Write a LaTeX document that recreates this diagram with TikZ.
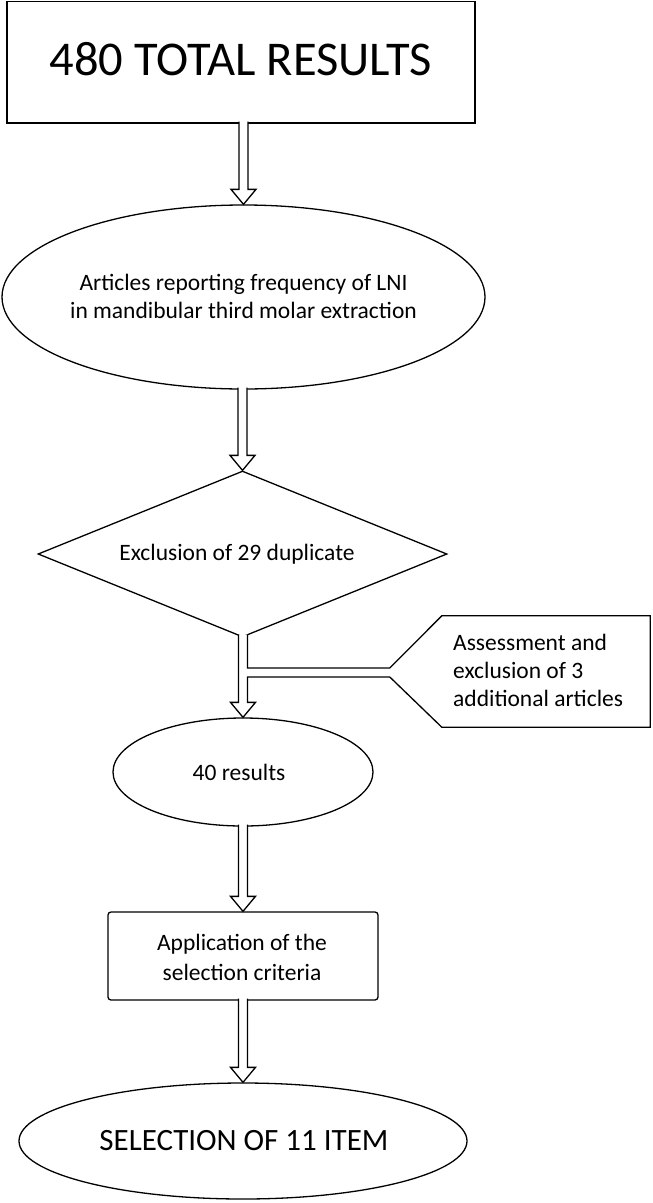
\documentclass[tikz,border=0pt]{standalone}
\usepackage{fontspec}
\setmainfont{Carlito}
\usetikzlibrary{shapes.geometric,calc}
\tikzset{
  line/.style={draw=black,line width=1.3pt},
  oval/.style={ellipse,line,fill=white,inner sep=0pt},
  txt/.style={align=center,font=\fontsize{23.5}{28}\selectfont,inner sep=0pt},
  hollow/.style={draw=black,line width=1.3pt,fill=white,line join=miter},
}
\newcommand\hollowarrow[2]{%
  \draw[hollow] let \p1=(#1), \p2=(#2) in
    (\x2-4.5pt,\y1+2pt) -- (\x2-4.5pt,\y2+15pt) -- (\x2-12.5pt,\y2+15pt) -- (\x2,\y2)
    -- (\x2+12.5pt,\y2+15pt) -- (\x2+4.5pt,\y2+15pt) -- (\x2+4.5pt,\y1+2pt);}
\begin{document}
\begin{tikzpicture}[x=1pt,y=-1pt]
\useasboundingbox (0,0) rectangle (653,1203);
\fill[white] (0,0) rectangle (653,1203);

% shapes
\node[line,rectangle,minimum width=468pt,minimum height=121.5pt,inner sep=0pt] (total) at (241,62.25) {};
\node[oval,minimum width=483pt,minimum height=184pt] (art) at (243.5,297) {};
\node[diamond,line,fill=white,inner sep=0pt,minimum width=409pt,minimum height=166pt] (dup) at (242.5,554) {};
\node[oval,minimum width=260pt,minimum height=108pt] (forty) at (243,772) {};
\node[line,rectangle,rounded corners=3pt,minimum width=270pt,minimum height=88pt,inner sep=0pt] (crit) at (243,956) {};
\node[oval,minimum width=448pt,minimum height=116pt] (sel) at (243,1141) {};
\node[rectangle,minimum width=208pt,minimum height=111pt,inner sep=0pt] (cbox) at (546,671.5) {};

% arrows
\hollowarrow{total.south}{art.north}
\hollowarrow{art.south}{dup.north}
\draw[hollow] let \p1=(dup.south), \p2=(forty.north), \p3=(cbox.north west), \p4=(cbox.south east), \p5=(cbox.center) in
  (\x2-4.5pt,\y1+3pt) -- (\x2-4.5pt,\y2+15pt) -- (\x2-12.5pt,\y2+15pt) -- (\x2,\y2)
  -- (\x2+12.5pt,\y2+15pt) -- (\x2+4.5pt,\y2+15pt) -- (\x2+4.5pt,\y5-5.5pt)
  -- (\x3-52pt,\y5-5.5pt) -- (\x3,\y4) -- (\x4,\y4) -- (\x4,\y3) -- (\x3,\y3)
  -- (\x3-52pt,\y5+3.5pt) -- (\x2+4.5pt,\y5+3.5pt) -- (\x2+4.5pt,\y1+3pt);
\hollowarrow{forty.south}{crit.north}
\hollowarrow{crit.south}{sel.north}

% texts
\node[txt,font=\fontsize{48.5}{56}\selectfont] (totaltxt) at (241,59) {480 TOTAL RESULTS};
\node[txt] (arttxt) at (243.5,296.5) {Articles reporting frequency of LNI\\in mandibular third molar extraction};
\node[txt] (duptxt) at (237,554) {Exclusion of 29 duplicate};
\node[txt,align=left,anchor=west] (ctxt) at (453,670) {Assessment and\\exclusion of 3\\additional articles};
\node[txt] (fortytxt) at (239,772) {40 results};
\node[txt,font=\fontsize{23.5}{30}\selectfont] (crittxt) at (242,957) {Application of the\\selection criteria};
\node[txt,font=\fontsize{31}{36}\selectfont] (seltxt) at (244,1141) {SELECTION OF 11 ITEM};
\end{tikzpicture}
\end{document}
